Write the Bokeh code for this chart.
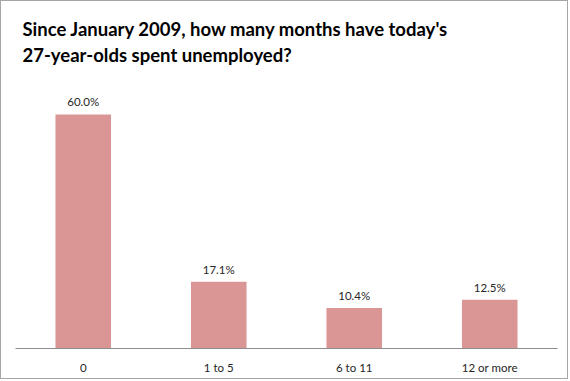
from bokeh.plotting import figure
from bokeh.models import ColumnDataSource, Range1d
from bokeh.core.properties import value
from bokeh.embed import file_html
from bokeh.resources import INLINE

categories = ["0", "1 to 5", "6 to 11", "12 or more"]
shares = [60.0, 17.1, 10.4, 12.5]
share_labels = ["60.0%", "17.1%", "10.4%", "12.5%"]

title_text = "Since January 2009, how many months have today's\n27-year-olds spent unemployed?"

src = ColumnDataSource(dict(cat=categories, val=shares, lab=share_labels))

FONT = "Lato"

p = figure(x_range=categories, y_range=Range1d(0, 68.46),
           width=568, height=379, output_backend="svg", toolbar_location=None,
           min_border_left=14, min_border_right=12, min_border_bottom=32, min_border_top=80)
p.styles = {"border": "1px solid #a6a6a6"}

p.title.text = title_text
p.title.text_font = FONT
p.title.text_font_size = "18.5px"
p.title.text_font_style = "bold"
p.title.text_line_height = 1.2
p.title.text_color = "#000000"
p.title.align = "left"
p.title.offset = 7
p.title.standoff = 30

p.vbar(x="cat", top="val", width=0.41, source=src, fill_color="#D99694", line_color=None)
p.text(x="cat", y="val", text="lab", source=src, text_align="center", text_baseline="bottom",
       y_offset=-6, text_font=value(FONT), text_font_size="11.5px", text_color="#262626")

p.yaxis.visible = False
p.xgrid.grid_line_color = None
p.ygrid.grid_line_color = None
p.outline_line_color = None
p.xaxis.axis_line_color = "#8c8c8c"
p.xaxis.axis_line_width = 1
p.xaxis.major_tick_line_color = None
p.xaxis.minor_tick_line_color = None
p.xaxis.major_label_text_font = FONT
p.xaxis.major_label_text_font_size = "11.5px"
p.xaxis.major_label_text_color = "#262626"
p.xaxis.major_label_standoff = 6
p.x_range.range_padding = 0.0

open("out.html", "w").write(file_html(p, INLINE))
